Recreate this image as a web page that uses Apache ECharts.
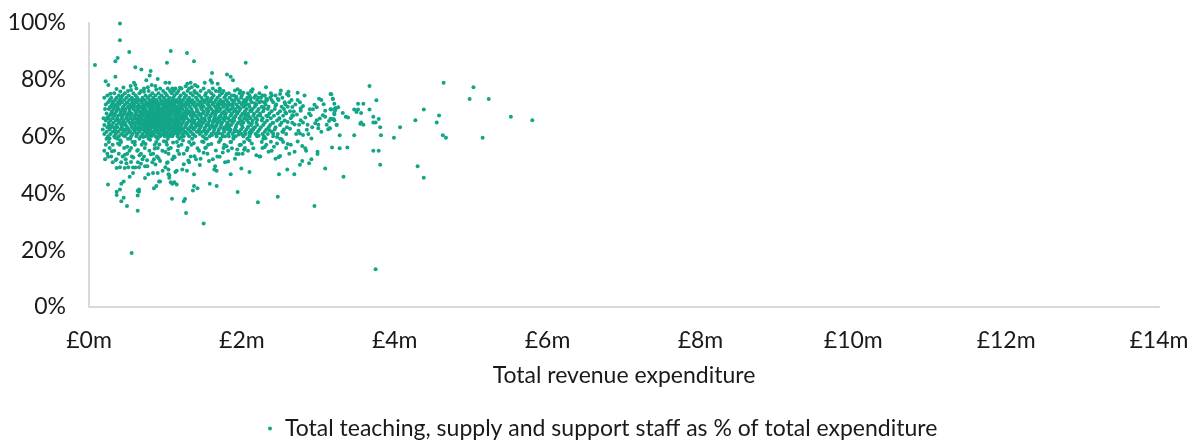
<!DOCTYPE html>
<html><head><meta charset="utf-8">
<style>html,body{margin:0;padding:0;background:#fff}#c{width:1198px;height:441px}</style>
<script src="https://cdn.jsdelivr.net/npm/echarts@6/dist/echarts.min.js"></script>
</head><body><div id="c"></div>
<script>
const seriesName = "Total teaching, supply and support staff as % of total expenditure";
const axisTitle = "Total revenue expenditure";
const xTicksMillions = [0,2,4,6,8,10,12,14];
const yTicksPercent = [0,20,40,60,80,100];

// Individually readable schools: [expenditure £m, staff %]
const sparseSchools = [
[.405,99.8],[.405,93.9],[.527,89.8],[.375,87.7],[.345,86.5],[1.07,90.1],[1.282,89.4],[1.02,86],[1.374,86.5],[2.05,86],[.078,85.2],[.606,84.4],[.685,83.6],[.807,83.1],[.794,81.5],[.345,81.1],[.218,79.5],[.253,78.2],[.75,79.8],[.899,80.3],[.545,77.8],[.589,79],[.606,78.2],[.82,78.2],[.868,77.8],[1.0,79],[1.05,79],[1.61,82.4],[1.806,81.9],[1.854,81.1],[1.884,79.8],[2.316,77.4],[1.514,79],[1.592,79.8],[1.61,79],[1.684,78.6],[1.5,76.9],[1.714,76.5],[1.33,79],[1.286,78.6],[1.387,78.2],[1.344,77.4],[1.265,77.7],
[3.67,77.8],[4.64,79],[5.03,77.4],[4.98,73.2],[5.23,73.2],[3.76,72.8],[3.52,71.6],[3.59,71.6],[3.67,69.5],[4.38,69.5],[3.47,69.5],[3.52,69.5],[3.5,68.7],[3.56,68.3],[3.72,67],[4.58,67.4],[5.52,67],[5.8,65.8],[4.27,65.8],[4.55,65],[3.79,66.2],[3.72,65],[3.75,65],[3.55,64.5],[3.56,65],[3.59,64.2],[3.81,63.3],[4.07,63.3],[3.28,60.5],[3.47,60.5],[3.82,60.5],[3.99,59.6],[4.63,60.5],[4.67,59.6],[5.15,59.6],[3.18,56.2],[3.28,55.9],[3.38,56.2],[3.72,55],[3.79,55],[3.81,50.1],[4.3,49.6],[3.33,45.9],[4.38,45.5],[3.75,13.3],
[3.17,74.9],[3.19,73.2],[3.21,71.6],[3.26,70.3],[3.22,70],[3.17,69.5],[3.22,69.2],[3.21,67.9],[3.32,68.3],[3.36,67],[3.39,66.7],[3.17,66.2],[3.2,66.2],[3.21,65.8],[3.24,64.1],[3.15,62.9],
[.558,19],[1.5,29.4],[1.27,33.1],[.637,33.9],[.497,35.6],[2.95,35.6],[2.21,36.9],[2.47,38.8],[1.945,40.5],[.423,37.2],[.454,38.5],[.362,39.4],[.362,40.6],[.405,41.4],[.249,43.1],[.637,39.3],[.637,40.9],[.654,41.4],[.654,40.6],[.85,41.8],[.881,42.6],[.916,44.2],[.93,44.2],[.423,43.4],[.454,44.2],[.532,45.9],[.576,47.2],[.733,45.4],[.776,46.7],[.837,47.2],[.899,47.2],[.964,48],[1.0,49.2],[1.04,48.4],[1.04,46.7],[1.05,46.4],[1.05,45.5],[1.07,43.9],[1.09,43.4],[1.116,43.9],[1.147,43.1],[1.086,38.1],[1.24,37.2],[1.256,38],[1.36,41],[1.374,42.6],[1.42,41.8],[1.58,43.4],[1.67,42.6],[1.13,47.5],[1.147,48],[1.22,48.4],[1.282,48],[1.374,46.7],[1.854,46.7],[1.993,48.8],[2.1,47.5],[2.486,46.7],[2.594,48.4],[2.686,46.7],[3.09,48.8],[.362,48.9],[.405,49.2],[.467,48.9],[.514,49.2],[.576,49.1],[.606,49.1],[.654,49.2],[.733,49.6],[.763,49.6],[1.64,48.4],[1.67,48],[1.65,49.6],[1.45,50],
[2.51,76.2],[2.61,75.8],[2.59,75],[2.61,74.5],[2.73,75.4],[2.82,74.5],[2.5,75],[2.47,73.3],[2.56,72.1],[2.65,72.9],[2.73,72.9],[2.76,72.1],[3.01,73.3],[3.04,72.9],[3.16,75],[3.19,73.3],[2.8,70.8],[2.77,70],[2.77,69.1],[2.89,69.6],[2.93,69.6],[2.98,70.3],[3.09,69.1],[3.16,69.6],[3.23,70],[3.21,68.3],[2.68,68.8],[2.66,67.5],[2.9,67.5],[2.98,65.8],[2.96,64.7],[3.06,67.5],[3.09,67],[3.16,66.3],[3.14,65.5],[3.24,64.2],[2.77,65.8],[2.8,65],[2.75,64.2],[2.86,64.2],[3.15,62.9],[3.13,62.6],[3.0,64.2],[3.04,61.7],[3.0,62.9],[2.91,59.3],[2.71,60.9],[2.76,61.1],[2.8,60.6],[2.87,60.9],[2.99,54.7],[2.99,53.9],[2.83,55.9],[2.84,55],[2.79,56.7],[2.69,54.7],[2.91,52],[2.88,50.6],[2.79,51.4],[2.76,50.1],[2.5,53.2],[2.48,52.7],[2.44,52.2],[2.35,54.7],[2.3,56.3],[2.42,56.4],[2.46,57.6],[2.24,53],[2.19,53.4],[2.15,55.9],[2.13,57.6],[1.93,53.9],[1.96,53.9],[1.91,52.2],[1.87,55.9],[1.94,55.5],[1.71,52.9],
[1.945,76.7],[2.02,75.4],[2.14,76.7],[2.13,75.8],[2.215,73.7],[2.3,74.5],[2.39,74.5],[2.39,72.9],[2.32,73.3],[2.32,72.6],[1.8,75],[1.87,74.5],[1.93,74],[2.11,73.7],[2.06,72.9]
];

// Body of the cloud, read patch by patch: [expenditure £m, staff %]
const cloudSchools = [
[.31,72.4],[.44,70.2],[.57,73.1],[.69,68.4],[.78,71.6],[.86,66.2],[.93,69.8],[1.04,63.7],[1.13,67.1],[1.22,70.9],[1.34,65.3],[1.46,72.2],[1.58,62.8],[1.67,68.9],[1.79,66.6],[1.88,71.1],[1.99,64.4],[2.11,69.3],[2.24,67.4],[2.36,62.2],
[.24,66.7],[.35,61.8],[.47,68.1],[.55,64.9],[.64,72.6],[.72,62.4],[.81,67.7],[.88,72.8],[.97,65.6],[1.08,71.2],[1.17,63.2],[1.26,68.6],[1.39,70.7],[1.51,66.3],[1.6,73.3],[1.73,64.7],[1.84,69.4],[1.94,61.9],[2.06,66.1],[2.17,71.7],
[.28,70.4],[.39,65.2],[.5,71.9],[.6,66.4],[.67,70.3],[.75,64.3],[.83,69.2],[.9,61.6],[.99,67.4],[1.06,72.4],[1.15,65.8],[1.24,61.3],[1.31,72.7],[1.43,63.9],[1.55,69.6],[1.64,65.4],[1.76,72.3],[1.86,67.6],[1.97,70.1],[2.08,63.4],[2.2,65.9],
[.33,63.2],[.42,67.6],[.52,61.4],[.61,69.1],[.7,72.9],[.77,66.8],[.85,63.6],[.92,71.4],[1.01,68.2],[1.1,61.9],[1.19,69.7],[1.28,64.6],[1.37,67.3],[1.48,70.4],[1.56,64.1],[1.69,71.4],[1.81,62.6],[1.92,68.8],[2.02,72.2],[2.15,62.9],[2.29,69.9],
[.26,63.9],[.37,69.6],[.46,64.3],[.56,71.2],[.65,62.9],[.73,69.4],[.8,64.8],[.87,68.3],[.95,62.3],[1.03,66.4],[1.12,71.8],[1.2,66.9],[1.3,62.6],[1.41,68.8],[1.53,61.7],[1.62,71.9],[1.71,67.1],[1.83,64.1],[1.9,72.6],[2.04,67.9],[2.13,64.6],[2.25,72.4],
[.3,67.9],[.4,72.9],[.49,66.6],[.58,62.7],[.66,67.2],[.74,71.1],[.79,68.8],[.84,65.2],[.91,67.9],[.98,70.6],[1.05,67.9],[1.11,65.3],[1.18,72.3],[1.25,66.6],[1.35,63.1],[1.45,67.7],[1.57,70.9],[1.66,63.7],[1.75,68.3],[1.87,65.6],[1.96,60.7],[2.1,61.4],[2.22,60.3],
[.34,59.7],[.45,60.4],[.54,59.2],[.63,60.9],[.71,59.9],[.76,61.3],[.82,60.2],[.89,59.6],[.94,60.6],[1,61.1],[1.07,60.3],[1.14,61.2],[1.21,59.9],[1.27,61.4],[1.36,60.7],[1.44,61.5],[1.52,59.4],[1.61,60.6],[1.7,61.2],[1.78,60.1],[1.89,59.8],[2,60.9],
[.82,70.4],[.86,64.4],[.9,68.7],[.94,63.4],[.96,72.3],[1,64.9],[1.03,70.2],[1.07,66.1],[1.09,63.1],[1.11,69.1],[1.14,72.7],[1.16,64.3],[1.2,62.4],[1.23,67.6],[1.26,63.4],[1.29,71.4],[.75,67.3],[.79,62.6],[.84,72.1],[.73,65.8],[.68,64.7],[.62,67.8],[.59,70.3],[.53,69.8],[.48,62.3],[.43,64.7],[1.32,68.2],[1.38,64.9],[1.42,71.3],[1.47,65.2],[1.5,68.6],[1.54,72.8],[1.59,67.2],[1.63,63.4],[1.68,66.1],[1.72,69.8],[1.77,63.1],[1.82,70.9],[1.85,62.3],[1.91,66.9],[1.95,70.3],[2.01,65.4],[2.05,71.1],[2.09,67.2],[2.12,62.2]
];

// Edges of the cloud: the thinner strip under it and the tail to its right
const fringeSchools = [
[.27,59.3],[.38,57.6],[.41,58.7],[.5,56.4],[.6,58.2],[.64,55.3],[.74,57.4],[.8,58.9],[.86,55.8],[.92,57.2],[.98,58.4],[1.04,55.6],[1.1,57.9],[1.17,56.7],[1.23,58.6],[1.28,55.2],[1.37,57.7],[1.42,55.9],[1.48,58.3],[1.53,56.2],[1.6,57.4],[1.66,55.1],[1.72,58.8],[1.8,56.6],[1.85,58.1],[1.97,57],[2.03,55.4],[2.1,58.6],[.3,54.8],[.47,53.6],[.58,52.6],[.66,53.4],[.76,51.7],[.81,53.8],[.91,52.4],[1,54.6],[1.12,52.7],[1.18,53.9],[1.3,51.6],[1.38,53.1],[1.5,54.3],[1.57,51.4],[1.75,54.4],[1.82,51.2],[.25,52.9],[.35,51.8],[.49,50.6],[.55,51.1],[.68,50.4],[.87,50.2],[.93,51.4],[1.02,50.7],[1.24,50.3],[1.46,52.2],
[2.28,70.3],[2.34,67.2],[2.4,64.8],[2.44,70.9],[2.49,66.3],[2.54,61.7],[2.57,68.6],[2.6,65.1],[2.63,62.8],[2.66,70.4],[2.69,64.3],[2.72,67.8],[2.74,62.1],[2.83,66.7],[2.85,62.4],[2.88,68.1],[2.92,63.3],[2.95,71.2],[3.02,66.4],[3.07,71.4],[3.11,64.2],[2.31,59.4],[2.38,58.2],[2.52,59.1],[2.6,57.4],[2.73,58.3],[2.41,61.1],[2.46,59.9],
[.36,76.8],[.45,77.3],[.55,76.4],[.77,77.4],[.88,76.6],[1.19,77.2],[1.42,77.6],[1.7,75.9],[1.91,76.2],[.28,75.1],[.41,75.9],[.72,75.8],[1.38,75.7]
];

// Dense cloud read band by band: staff % level and the expenditures seen there
const bandLevels = [76.9,76.1,75.3,74.5,73.7,72.9,72.1,71.3,70.5,69.7,68.9,68.1,67.3,66.5,65.7,64.9,64.1,63.3,62.5,61.7,60.9,60.1,59.2,58.1,57.1,56,55,54,53,52,51];
const bandExpenditure = [
[.62,.72,.93,1.03,1.09,1.13,1.21,1.31,1.62,1.71],
[.51,.68,.78,.97,1.06,1.11,1.17,1.29,1.38,1.46,1.57,1.66,1.76,1.98,2.12],
[.33,.47,.58,.66,.83,.91,1,1.08,1.15,1.24,1.33,1.41,1.53,1.6,1.74,1.83,1.97,2.08,2.23,2.38],
[.24,.39,.44,.52,.61,.74,.8,.87,.95,1.02,1.12,1.2,1.27,1.36,1.44,1.52,1.63,1.71,1.79,1.9,2,2.1,2.18,2.27,2.44],
[.2,.29,.36,.42,.49,.56,.63,.7,.77,.84,.92,.98,1.05,1.1,1.18,1.25,1.31,1.4,1.47,1.55,1.61,1.68,1.77,1.84,1.92,1.99,2.07,2.16,2.25,2.37,2.53],
[.27,.34,.41,.46,.53,.6,.66,.73,.79,.83,.88,.94,1,1.04,1.09,1.14,1.19,1.23,1.29,1.35,1.42,1.49,1.53,1.59,1.66,1.72,1.8,1.87,1.95,2.03,2.11,2.2,2.33,2.48],
[.25,.31,.38,.43,.5,.57,.62,.69,.75,.81,.86,.9,.96,1.01,1.06,1.11,1.16,1.21,1.27,1.33,1.38,1.45,1.51,1.57,1.64,1.7,1.75,1.82,1.89,1.97,2.05,2.13,2.23,2.29,2.41,2.62],
[.22,.3,.35,.4,.47,.54,.59,.65,.71,.76,.82,.85,.89,.93,.98,1.03,1.07,1.12,1.18,1.24,1.3,1.36,1.43,1.48,1.55,1.62,1.68,1.73,1.78,1.85,1.93,2,2.09,2.19,2.31,2.45,2.57,2.7],
[.28,.33,.37,.45,.51,.55,.63,.68,.72,.78,.84,.87,.91,.97,1,1.05,1.1,1.15,1.2,1.26,1.32,1.39,1.46,1.5,1.58,1.65,1.69,1.76,1.81,1.88,1.95,2.02,2.1,2.17,2.26,2.35,2.52,2.6],
[.21,.26,.32,.39,.44,.48,.58,.64,.7,.74,.8,.83,.88,.92,.95,.99,1.04,1.08,1.13,1.17,1.22,1.28,1.34,1.41,1.47,1.54,1.6,1.67,1.72,1.8,1.86,1.91,1.98,2.06,2.14,2.22,2.34,2.43,2.55],
[.3,.36,.42,.47,.53,.61,.66,.71,.76,.81,.85,.9,.94,.97,1.02,1.06,1.11,1.15,1.19,1.25,1.3,1.35,1.42,1.5,1.56,1.63,1.7,1.77,1.83,1.9,1.96,2.04,2.12,2.2,2.28,2.39,2.5,2.63],
[.23,.29,.34,.41,.46,.52,.56,.62,.68,.73,.78,.82,.86,.89,.93,.96,1.01,1.05,1.09,1.14,1.18,1.23,1.29,1.37,1.44,1.49,1.55,1.61,1.66,1.74,1.79,1.87,1.94,2.01,2.08,2.16,2.24,2.36,2.47,2.58],
[.27,.33,.38,.44,.5,.55,.6,.65,.7,.75,.79,.84,.87,.91,.95,.99,1.03,1.07,1.12,1.16,1.21,1.27,1.33,1.4,1.46,1.53,1.59,1.65,1.72,1.78,1.85,1.92,1.99,2.05,2.15,2.21,2.32,2.42,2.54,2.67],
[.19,.25,.31,.37,.43,.49,.54,.59,.64,.69,.74,.77,.82,.85,.88,.92,.96,1,1.04,1.08,1.13,1.17,1.22,1.28,1.35,1.42,1.48,1.57,1.64,1.69,1.75,1.82,1.89,1.97,2.03,2.11,2.18,2.27,2.38,2.49,2.64],
[.22,.28,.35,.4,.45,.51,.57,.63,.67,.72,.76,.8,.84,.87,.9,.94,.98,1.02,1.06,1.1,1.15,1.19,1.24,1.31,1.38,1.45,1.52,1.58,1.63,1.71,1.77,1.84,1.9,1.98,2.07,2.14,2.26,2.33,2.46,2.56],
[.26,.32,.39,.47,.53,.58,.62,.66,.71,.75,.79,.83,.86,.89,.93,.97,1.01,1.05,1.09,1.14,1.18,1.23,1.29,1.36,1.43,1.5,1.56,1.62,1.68,1.74,1.81,1.88,1.95,2.02,2.09,2.19,2.3,2.41,2.52,2.66],
[.2,.3,.36,.42,.48,.55,.6,.65,.7,.74,.78,.82,.85,.88,.92,.96,1,1.03,1.07,1.12,1.16,1.21,1.27,1.34,1.4,1.47,1.54,1.61,1.67,1.73,1.8,1.86,1.93,2,2.12,2.2,2.28,2.37,2.5],
[.24,.29,.37,.43,.5,.56,.61,.67,.72,.77,.81,.84,.89,.93,.97,1.02,1.06,1.1,1.15,1.2,1.26,1.32,1.39,1.46,1.52,1.59,1.65,1.72,1.78,1.83,1.92,2.01,2.08,2.17,2.25,2.35,2.44,2.59],
[.18,.27,.34,.41,.46,.52,.59,.64,.69,.75,.8,.86,.9,.95,.99,1.04,1.08,1.13,1.17,1.23,1.3,1.37,1.44,1.51,1.57,1.64,1.7,1.76,1.85,1.91,1.99,2.06,2.15,2.23,2.32,2.43,2.55],
[.23,.31,.38,.45,.54,.6,.66,.73,.78,.83,.88,.92,.98,1.03,1.08,1.14,1.19,1.25,1.33,1.41,1.48,1.55,1.63,1.69,1.77,1.84,1.9,1.97,2.04,2.13,2.21,2.3,2.39,2.53],
[.2,.28,.35,.42,.49,.57,.63,.7,.76,.81,.85,.91,.96,1.01,1.06,1.11,1.17,1.22,1.29,1.36,1.45,1.53,1.6,1.66,1.74,1.82,1.88,1.96,2.05,2.11,2.18,2.27,2.34,2.47,2.58],
[.25,.33,.39,.47,.55,.62,.68,.74,.79,.87,.93,.99,1.04,1.09,1.16,1.24,1.31,1.39,1.49,1.58,1.67,1.75,1.83,1.92,2.02,2.1,2.2,2.29,2.41],
[.23,.37,.51,.66,.78,.9,1.03,1.18,1.35,1.54,1.72,1.89,2.07,2.28,2.5],
[.26,.42,.57,.71,.88,1.01,1.15,1.31,1.5,1.7,1.86,2.03,2.26,2.54],
[.22,.31,.4,.6,.69,.86,1.02,1.21,1.34,1.56,1.77,1.99,2.32,2.64],
[.27,.46,.55,.73,.9,1.07,1.29,1.52,1.76,2.04,2.27,2.58],
[.2,.33,.53,.63,.79,.96,1.16,1.44,1.82,2.08,2.39],
[.24,.39,.5,.68,.84,1.04,1.24,1.55,2.01,2.62],
[.29,.44,.56,.72,.89,1.11,1.33,1.68,2.23],
[.21,.36,.48,.7,.85,1.09,1.4,1.62],
[.31,.42,.64,.83,1.03,1.31,1.78]
];

const points = sparseSchools.concat(cloudSchools, fringeSchools);
bandLevels.forEach((lvl, i) => bandExpenditure[i].forEach(x => points.push([x, lvl])));

const font = 'Lato';
const ink = '#1a1a1a';
const chart = echarts.init(document.getElementById('c'), null, {renderer:'canvas'});
chart.setOption({
  animation:false,
  backgroundColor:'#fff',
  textStyle:{fontFamily:font,color:ink},
  grid:{left:89,right:39,top:23,bottom:134,containLabel:false},
  xAxis:{type:'value',min:xTicksMillions[0],max:xTicksMillions[xTicksMillions.length-1],interval:2,
    name:axisTitle,nameLocation:'middle',nameGap:57,
    nameTextStyle:{fontFamily:font,fontSize:23,color:ink},
    axisLine:{show:true,lineStyle:{color:'#d9d9d9',width:2}},axisTick:{show:false},splitLine:{show:false},
    axisLabel:{fontFamily:font,fontSize:23,color:ink,margin:22,formatter:v=>'£'+v+'m'}},
  yAxis:{type:'value',min:yTicksPercent[0],max:yTicksPercent[yTicksPercent.length-1],interval:20,
    axisLine:{show:true,lineStyle:{color:'#d9d9d9',width:2}},axisTick:{show:false},splitLine:{show:false},
    axisLabel:{fontFamily:font,fontSize:23,color:ink,margin:23,formatter:v=>v+'%'}},
  legend:{show:true,left:268,top:417,padding:0,icon:'circle',itemWidth:20,itemHeight:4,itemGap:6,
    textStyle:{fontFamily:font,fontSize:23,color:ink},data:[seriesName]},
  series:[{type:'scatter',name:seriesName,data:points,symbolSize:4,
    itemStyle:{color:'#12a587',opacity:1},large:false}]
});
</script></body></html>
